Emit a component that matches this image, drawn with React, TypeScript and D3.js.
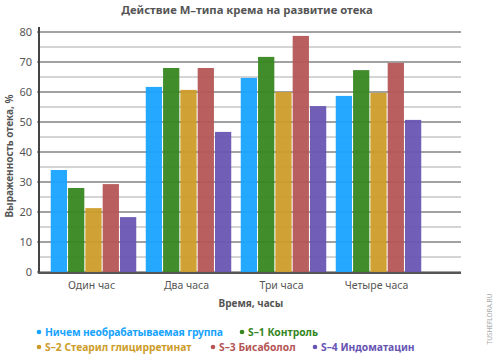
import React from 'react';
import * as d3 from 'd3';

const categories = ['Один час', 'Два часа', 'Три часа', 'Четыре часа'];
const seriesNames = [
  'Ничем необрабатываемая группа',
  'S–1 Контроль',
  'S–2 Стеарил глицирретинат',
  'S–3 Бисаболол',
  'S–4 Индоматацин',
];
const seriesColors = ['#17a3ff', '#35861f', '#cd9c28', '#b55555', '#6754b3'];
const untreated = [34, 61.7, 64.7, 58.7];
const s1 = [28, 68, 71.7, 67.3];
const s2 = [21.3, 60.7, 60, 59.7];
const s3 = [29.3, 68, 78.7, 69.7];
const s4 = [18.3, 46.7, 55.3, 50.7];
const seriesValues = [untreated, s1, s2, s3, s4];
const yTicks = [0, 10, 20, 30, 40, 50, 60, 70, 80];

const W = 494;
const H = 354;
const left = 39;
const right = 461;
const top = 32;
const bottom = 272;
const font = '"Noto Sans", sans-serif';
const textColor = '#555';

export default function App() {
  const y = d3.scaleLinear().domain([0, 80]).range([bottom, top]);
  const x0 = d3.scaleBand<string>().domain(categories).range([46, 426]).paddingInner(0.1).paddingOuter(0.05);
  const x1 = d3.scaleBand<string>().domain(seriesNames).range([0, x0.bandwidth()]).paddingInner(0.06);
  const minor = d3.range(5, 80, 10);

  // legend layout: [series index, dot x]
  const legendRows = [
    [{ i: 0, x: 39 }, { i: 1, x: 242 }],
    [{ i: 2, x: 39 }, { i: 3, x: 213 }, { i: 4, x: 315 }],
  ];

  return (
    <svg width={W} height={H} style={{ position: 'absolute', left: 0, top: 0 }} fontFamily={font}>
      <rect width={W} height={H} fill="#fff" />
      <text x={247} y={14} textAnchor="middle" fontSize={11.3} fontWeight="bold" fill={textColor}>
        Действие M–типа крема на развитие отека
      </text>
      {minor.map(t => (
        <line key={'m' + t} x1={left} x2={right} y1={y(t)} y2={y(t)} stroke="#aaa" strokeWidth={1} />
      ))}
      {yTicks.map(t => (
        <g key={t}>
          <line x1={left - 2} x2={right} y1={y(t)} y2={y(t)} stroke="#444" strokeWidth={1} />
          <text x={32} y={y(t) + 4} textAnchor="end" fontSize={11} fill={textColor}>{t}</text>
        </g>
      ))}
      {categories.map((c, ci) => (
        <g key={c} transform={`translate(${x0(c)},0)`}>
          {seriesNames.map((s, si) => (
            <rect key={s} x={x1(s)} width={x1.bandwidth()} y={y(seriesValues[si][ci])}
              height={bottom - y(seriesValues[si][ci])} fill={seriesColors[si]} fillOpacity={0.94} />
          ))}
        </g>
      ))}
      <line x1={left} x2={left} y1={27} y2={bottom + 1} stroke="#444" strokeWidth={2} />
      <line x1={left - 1} x2={right} y1={bottom + 1} y2={bottom + 1} stroke="#555" strokeWidth={2} />
      {categories.map(c => (
        <text key={c} x={(x0(c) ?? 0) + x0.bandwidth() / 2 - 2} y={289} textAnchor="middle" fontSize={10.5} fill={textColor}>{c}</text>
      ))}
      <text x={251} y={307} textAnchor="middle" fontSize={10} fontWeight="bold" fill={textColor}>Время, часы</text>
      <text transform={`translate(13,${(top + bottom) / 2 + 4}) rotate(-90)`} textAnchor="middle" fontSize={10} fontWeight="bold" fill={textColor}>
        Выраженность отека, %
      </text>
      {legendRows.map((row, ri) => row.map(({ i, x }) => (
        <g key={i} transform={`translate(${x},${332 + ri * 15})`}>
          <circle cx={0} cy={0} r={2.3} fill={seriesColors[i]} />
          <text x={6} y={3.6} fontSize={10.3} fontWeight="bold" fill={seriesColors[i]}
            textLength={i === 0 ? 178 : undefined}>{seriesNames[i]}</text>
        </g>
      )))}
      <text transform="translate(492,319) rotate(-90)" textAnchor="middle" fontSize={6.5} fill="#aaa">TUSHEFLORA.RU</text>
    </svg>
  );
}
